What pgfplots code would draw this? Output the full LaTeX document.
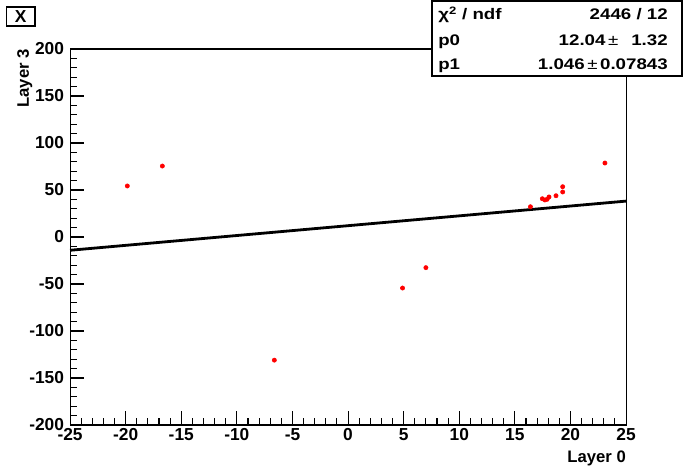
\documentclass[border=0pt]{standalone}
\usepackage{fontspec}
\setmainfont{Liberation Sans}
\newfontfamily\statfont[FakeStretch=1.22]{Liberation Sans}
\usepackage{pgfplots}
\pgfplotsset{compat=1.18}
\begin{document}
\begin{tikzpicture}[x=0.75pt,y=0.75pt]
\useasboundingbox (0,0) rectangle (696,472);
\begin{axis}[
  at={(63,50)}, anchor=south west, scale only axis,
  width=417pt, height=282pt,
  xmin=-25, xmax=25, ymin=-200, ymax=200,
  xtick distance=5, ytick distance=50,
  minor x tick num=4, minor y tick num=4,
  tick align=inside, xtick pos=bottom, ytick pos=left,
  major tick length=10.5pt, minor tick length=5pt,
  axis line style={line width=0.8pt},
  every tick/.style={line width=0.8pt, black},
  /pgf/number format/assume math mode=true,
  ticklabel style={font=\bfseries\fontsize{13}{13}\selectfont},
  xticklabel style={yshift=1pt},
  yticklabel style={xshift=-1pt},
  xlabel={Layer 0}, ylabel={Layer 3},
  label style={font=\bfseries\fontsize{12.5}{13}\selectfont},
  xlabel style={at={(rel axis cs:1,0)}, anchor=north east, yshift=-19pt, inner sep=0pt},
  ylabel style={at={(rel axis cs:0,1)}, anchor=south east, rotate=0, xshift=0pt, yshift=28pt, inner sep=0pt},
  clip=false,
]
\addplot[black, line width=2.1pt] coordinates {(-25,-14.11) (25,38.19)};
\addplot[only marks, mark=*, red, mark size=1.6pt] coordinates {
(-19.85,54.3) (-16.7,75.5) (7.0,-32.6) (4.9,-54.3) (-6.63,-131)
(23.1,78.7) (19.3,53.5) (19.3,47.9) (18.7,43.9)
(17.47,40.7) (17.7,39.4) (17.9,40.1) (18.07,42.6) (16.4,32.2)
};
\end{axis}
\draw[line width=0.8pt] (6.5,472-7) rectangle (35,472-26);
\node[font=\bfseries\fontsize{13}{13}\selectfont] at (20.75,472-16.5) {X};
\draw[line width=0.8pt, fill=white] (432,472-1) rectangle (682,472-76);
\begin{scope}[font=\statfont\bfseries\fontsize{11.5}{11.5}\selectfont]
\node[anchor=base west, inner sep=0pt] at (438,472-20) {χ\textsuperscript{2} / ndf};
\node[anchor=base east, inner sep=0pt] at (668,472-20) {2446 / 12};
\node[anchor=base west, inner sep=0pt] at (438,472-46) {p0};
\node[anchor=base east, inner sep=0pt] at (668,472-46) {12.04\,\mdseries±\,\bfseries\ \ 1.32};
\node[anchor=base west, inner sep=0pt] at (438,472-70) {p1};
\node[anchor=base east, inner sep=0pt] at (668,472-70) {1.046\,\mdseries±\,\bfseries 0.07843};
\end{scope}
\end{tikzpicture}
\end{document}
